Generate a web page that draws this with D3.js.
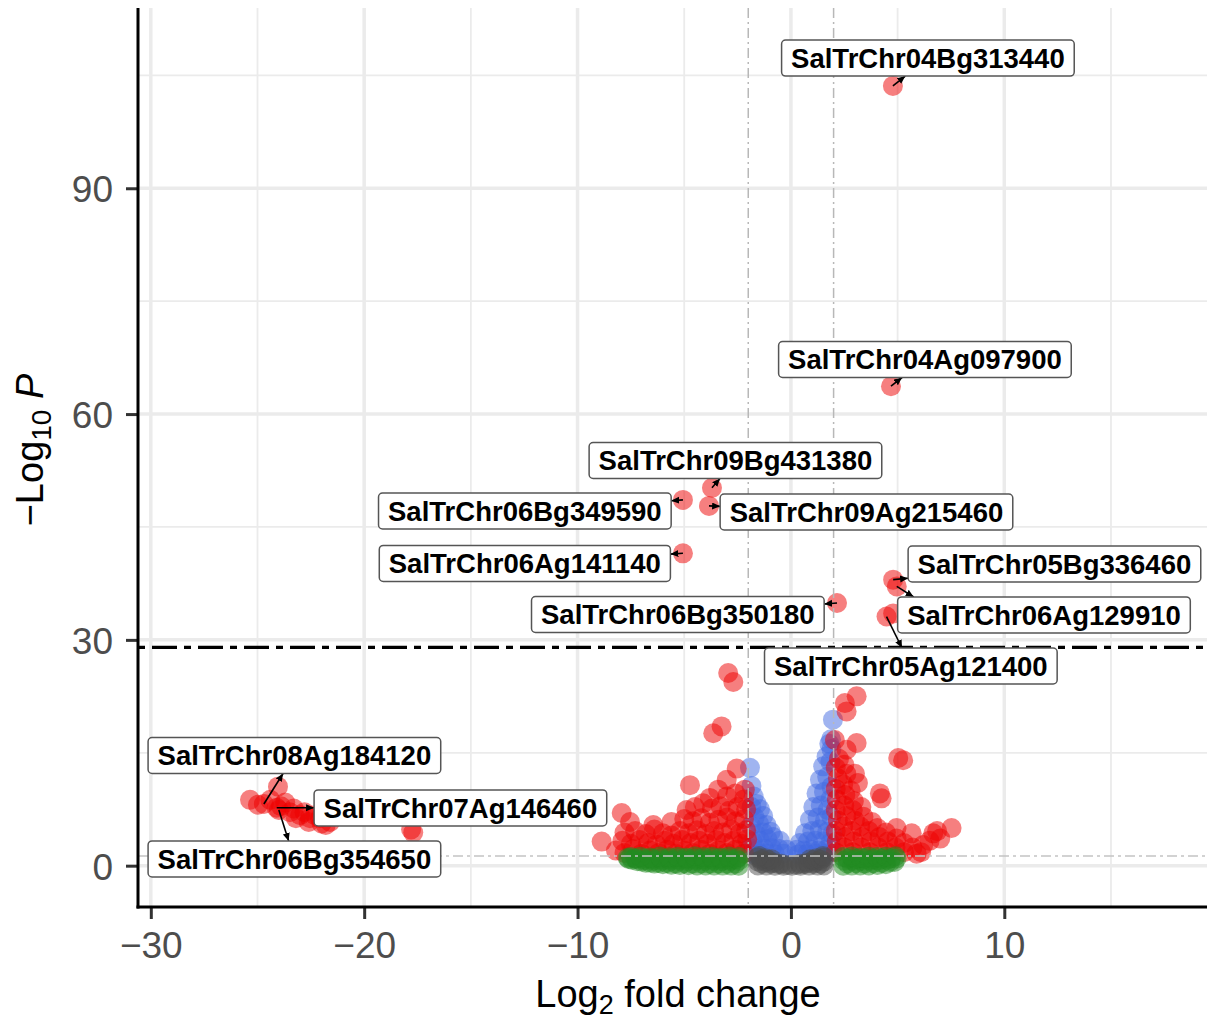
<!DOCTYPE html>
<html><head><meta charset="utf-8">
<script src="https://cdn.jsdelivr.net/npm/d3@7"></script>
<style>body{margin:0;background:#fff}svg{display:block}</style>
</head><body><svg id="chart" width="1207" height="1021"></svg>
<script>
// ---------- axis ticks ----------
const xTicks = [-30, -20, -10, 0, 10];
const xMinorTicks = [-25, -15, -5, 5, 15];
const yTicks = [0, 30, 60, 90];
const yMinorTicks = [15, 45, 75, 105];
const fcCutoff = 2;          // |log2 FC| cut-off
const pCutoff = 1.3;         // -log10(0.05)
const extraLine = 29;        // black dot-dash line

// ---------- labelled genes ----------
const labelGenes = ["SalTrChr04Bg313440","SalTrChr04Ag097900","SalTrChr09Bg431380","SalTrChr06Bg349590",
  "SalTrChr09Ag215460","SalTrChr06Ag141140","SalTrChr06Bg350180","SalTrChr05Bg336460",
  "SalTrChr06Ag129910","SalTrChr05Ag121400","SalTrChr08Ag184120","SalTrChr07Ag146460","SalTrChr06Bg354650"];
const labelFC = [4.78, 4.69, -3.70, -5.06, -3.84, -5.06, 2.16, 4.79, 4.96, 4.48, -24.70, -24.10, -24.00];
const labelP  = [103.6, 63.7, 50.2, 48.6, 47.8, 41.5, 34.9, 38.0, 37.1, 33.1, 8.2, 7.7, 7.4];
// repelled label anchors (data units)
const labelAtFC = [6.42, 6.28, -2.60, -12.47, 3.54, -12.47, -5.30, 12.35, 11.86, 5.62, -23.27, -15.49, -23.27];
const labelAtP  = [107.3, 67.25, 53.83, 47.12, 46.99, 40.15, 33.37, 40.08, 33.31, 26.53, 14.64, 7.67, 0.89];

// ---------- other genes: [log2FC, -log10 P] ----------
const genesCentre = [
  [-1.55,0.02],[-1.15,0.01],[-0.75,0.0],[-0.35,0.0],[0.05,0.0],[0.45,0.0],[0.85,0.01],[1.25,0.01],[1.55,0.02],
  [-1.35,0.3],[-0.95,0.28],[-0.55,0.2],[-0.15,0.1],[0.25,0.12],[0.65,0.22],[1.05,0.28],[1.4,0.3],
  [-1.55,0.55],[-1.15,0.5],[-0.8,0.4],[-0.45,0.25],[0.45,0.25],[0.8,0.4],[1.15,0.5],[1.55,0.55],
  [-1.4,0.8],[-1.05,0.75],[1.05,0.75],[1.4,0.8],
  [-1.55,1.1],[-1.2,1.0],[-0.9,0.85],[0.9,0.85],[1.2,1.0],[1.55,1.1],[-1.5,1.28],[1.5,1.28]
];
const genesFcOnly = [
  [-7.6,0.9],[-7.2,0.6],[-6.8,0.4],[-6.4,0.3],[-6.0,0.2],[-5.6,0.12],[-5.2,0.08],[-4.8,0.05],[-4.4,0.03],[-4.0,0.02],[-3.6,0.02],[-3.2,0.01],[-2.8,0.01],[-2.45,0.0],
  [-7.45,0.8],[-7.0,0.55],[-6.6,0.42],[-6.2,0.35],[-5.8,0.33],[-5.4,0.3],[-5.0,0.32],[-4.6,0.28],[-4.2,0.3],[-3.8,0.26],[-3.4,0.3],[-3.0,0.25],[-2.6,0.28],
  [-7.65,1.05],[-7.25,0.9],[-6.85,0.72],[-6.45,0.68],[-6.05,0.7],[-5.65,0.66],[-5.25,0.7],[-4.85,0.64],[-4.45,0.7],[-4.05,0.66],[-3.65,0.7],[-3.25,0.62],[-2.85,0.68],[-2.45,0.65],
  [-7.3,0.98],[-6.9,0.95],[-6.5,0.92],[-6.1,0.96],[-5.7,0.9],[-5.3,0.95],[-4.9,0.92],[-4.5,0.97],[-4.1,0.9],[-3.7,0.95],[-3.3,0.92],[-2.9,0.96],[-2.55,0.9],
  [-7.5,1.15],[-7.05,1.2],[-6.6,1.1],[-6.15,1.22],[-5.7,1.12],[-5.3,1.2],[-4.9,1.1],[-4.5,1.25],[-4.1,1.15],[-3.7,1.2],[-3.3,1.1],[-2.9,1.22],[-2.45,1.15],
  [2.45,0.0],[2.85,0.01],[3.25,0.02],[3.65,0.04],[4.05,0.08],[4.45,0.2],[4.85,0.5],
  [2.65,0.3],[3.05,0.32],[3.45,0.28],[3.85,0.33],[4.25,0.38],[4.65,0.5],
  [2.5,0.65],[2.9,0.7],[3.3,0.66],[3.7,0.7],[4.1,0.68],[4.5,0.8],[4.95,0.95],
  [2.65,0.95],[3.05,0.92],[3.45,0.96],[3.85,0.9],[4.25,0.95],[4.7,1.0],
  [2.45,1.15],[2.85,1.22],[3.25,1.1],[3.65,1.2],[4.05,1.15],[4.45,1.2],[4.9,1.25]
];
const genesPOnly = [
  [-1.92,13.0],[-1.85,10.6],[-1.75,9.2],[-1.6,8.2],[-1.45,7.5],[-1.85,7.8],[-1.3,6.6],[-1.7,6.4],[-1.14,5.4],[-1.5,5.6],
  [-1.88,5.3],[-0.95,4.5],[-1.3,4.4],[-1.65,4.2],[-0.83,3.8],[-0.52,3.3],[-1.1,3.5],[-1.45,3.3],[-1.8,3.2],[-0.2,2.1],
  [-0.55,2.2],[-0.9,2.3],[-1.25,2.2],[-1.6,2.0],[-1.9,2.3],[-0.35,1.6],[-0.75,1.5],[-1.15,1.6],[-1.5,1.5],[-1.85,1.6],
  [1.97,19.4],[1.88,16.8],[1.8,16.2],[1.9,15.5],[1.67,14.5],[1.51,13.2],[1.85,13.8],[1.36,11.4],[1.7,11.8],[1.9,10.5],
  [1.2,9.6],[1.55,9.8],[1.85,8.8],[1.05,7.8],[1.4,8.0],[1.72,7.4],[0.89,6.1],[1.25,6.4],[1.6,6.0],[1.9,6.5],
  [0.66,4.3],[1.0,4.6],[1.35,4.8],[1.7,4.5],[1.95,4.2],[0.42,3.0],[0.8,3.2],[1.15,3.3],[1.5,3.2],[1.85,3.0],
  [0.27,2.1],[0.6,2.0],[0.95,2.1],[1.3,2.0],[1.65,2.1],[1.95,1.9],[0.35,1.5],[0.75,1.5],[1.15,1.55],[1.55,1.5]
];
const genesBothLeft = [
  [-8.87,3.2],[-8.2,2.0],[-7.8,1.7],[-7.4,2.2],[-7.0,1.6],[-6.6,2.0],[-6.2,1.7],[-5.8,2.1],[-5.4,1.6],[-5.0,2.0],
  [-4.6,1.7],[-4.2,2.1],[-3.8,1.6],[-3.4,2.0],[-3.0,1.7],[-2.6,2.1],[-2.2,1.6],
  [-7.9,3.3],[-7.5,2.9],[-7.1,3.4],[-6.7,3.0],[-6.3,2.8],[-5.9,3.3],[-5.5,2.9],[-5.1,3.4],[-4.7,3.0],[-4.3,3.3],
  [-3.9,2.9],[-3.5,3.4],[-3.1,3.0],[-2.7,3.3],[-2.3,2.9],[-2.05,3.5],
  [-7.8,4.4],[-7.3,4.6],[-6.8,4.2],[-6.4,4.8],[-6.0,4.3],[-5.6,4.0],[-5.2,4.6],[-4.8,4.3],[-4.4,4.7],[-4.0,4.2],
  [-3.6,4.6],[-3.2,4.4],[-2.8,4.8],[-2.4,4.3],[-2.1,4.7],
  [-7.93,7.0],[-7.54,5.8],[-6.45,5.4],[-5.6,5.8],[-5.0,6.2],[-4.6,5.9],[-4.2,6.3],[-3.8,5.7],[-3.4,6.1],[-3.0,6.4],[-2.6,5.9],[-2.2,6.2],
  [-4.89,7.4],[-4.5,7.8],[-4.11,8.3],[-3.7,7.6],[-3.3,7.9],[-2.9,7.3],[-2.5,7.8],[-2.1,7.5],
  [-3.41,10.1],[-3.0,9.2],[-2.6,9.6],[-2.16,10.1],[-2.2,8.8],[-3.8,9.0],
  [-4.73,10.7],[-3.01,11.4],[-2.54,12.9],[-3.64,17.6],[-3.25,18.5],[-2.94,25.6],[-2.70,24.4],
  [-24.04,10.5],[-25.35,8.75],[-24.98,8.1],[-24.4,8.75],[-23.7,8.4],[-23.48,7.1],[-23.0,6.7],[-22.8,7.1],[-23.2,6.3],
  [-22.54,6.3],[-22.3,6.7],[-22.07,6.3],[-21.8,5.4],[-21.6,5.8],[-23.9,7.9],[-23.3,7.6],[-22.6,5.8],[-22.0,5.6],
  [-17.7,4.4],[-17.8,4.8]
];
const genesBothRight = [
  [2.1,1.8],[2.15,3.2],[2.1,4.6],[2.2,6.0],[2.1,7.4],[2.15,8.8],[2.1,10.2],[2.2,11.6],[2.1,13.0],[2.25,14.2],
  [2.5,2.4],[2.55,3.8],[2.45,5.2],[2.6,6.6],[2.5,8.0],[2.55,9.4],[2.45,10.8],[2.6,12.2],[2.5,13.4],
  [2.9,1.8],[2.95,3.2],[2.85,4.6],[3.0,6.0],[2.9,7.4],[2.95,8.6],[2.8,10.0],[3.0,12.2],
  [3.3,2.4],[3.35,3.8],[3.25,5.2],[3.4,6.5],[3.3,7.8],[3.14,11.0],
  [3.7,1.8],[3.75,3.2],[3.65,4.6],[3.8,5.8],[4.1,2.4],[4.15,3.8],[4.05,5.0],
  [4.5,1.8],[4.55,3.2],[4.45,4.4],[4.9,2.4],[4.95,3.6],[5.3,1.8],[5.3,3.0],
  [5.66,4.3],[5.7,2.4],[6.1,1.8],[6.2,2.75],[5.89,1.6],[6.5,3.3],[7.0,3.6],
  [3.08,22.5],[2.53,21.6],[2.61,20.5],[2.06,16.7],[3.08,16.3],[2.61,15.4],[5.26,14.0],[5.03,14.3],
  [4.17,9.6],[4.25,8.95],[7.53,5.0],[6.67,4.3],[6.85,4.6],[4.95,5.0],[4.79,33.5]
];

// ---------- layout ----------
const panelL = 138, panelR = 1207, panelT = 8, panelB = 907;
const svg = d3.select("#chart");
const x = d3.scaleLinear().domain([-30.6, 19.5]).range([panelL, panelR]);
const y = d3.scaleLinear().domain([-5.49, 113.95]).range([panelB, panelT]);
const FONT = "'Liberation Sans', Arial, Helvetica, sans-serif";

const colours = {ns: "#4d4d4d", fc: "#228b22", p: "#4169e1", both: "#ee0000"};
function classify(d) {
  const bigFC = Math.abs(d[0]) > fcCutoff, sigP = d[1] > pCutoff;
  return bigFC && sigP ? "both" : bigFC ? "fc" : sigP ? "p" : "ns";
}

// grid
const grid = svg.append("g");
grid.selectAll(".vmin").data(xMinorTicks).join("line")
  .attr("x1", d => x(d)).attr("x2", d => x(d)).attr("y1", panelT).attr("y2", panelB)
  .attr("stroke", "#ebebeb").attr("stroke-width", 1.8);
grid.selectAll(".hmin").data(yMinorTicks).join("line")
  .attr("x1", panelL).attr("x2", panelR).attr("y1", d => y(d)).attr("y2", d => y(d))
  .attr("stroke", "#ebebeb").attr("stroke-width", 1.8);
grid.selectAll(".vmaj").data(xTicks).join("line")
  .attr("x1", d => x(d)).attr("x2", d => x(d)).attr("y1", panelT).attr("y2", panelB)
  .attr("stroke", "#ebebeb").attr("stroke-width", 3.5);
grid.selectAll(".hmaj").data(yTicks).join("line")
  .attr("x1", panelL).attr("x2", panelR).attr("y1", d => y(d)).attr("y2", d => y(d))
  .attr("stroke", "#ebebeb").attr("stroke-width", 3.5);

// points (drawing order: blue, red, grey, green)
const all = [].concat(genesCentre, genesFcOnly, genesPOnly, genesBothLeft, genesBothRight,
  labelFC.map((f, i) => [f, labelP[i]]));
const order = {p: 0, both: 1, ns: 2, fc: 3};
all.sort((a, b) => order[classify(a)] - order[classify(b)]);
const defs = svg.append("defs");
defs.append("clipPath").attr("id", "panel").append("rect")
  .attr("x", panelL).attr("y", panelT).attr("width", panelR - panelL).attr("height", panelB - panelT);
svg.append("g").attr("clip-path", "url(#panel)").selectAll("circle").data(all).join("circle")
  .attr("cx", d => x(d[0])).attr("cy", d => y(d[1])).attr("r", 10)
  .attr("fill", d => colours[classify(d)]).attr("fill-opacity", 0.5);

// cut-off lines (over the points)
const cut = svg.append("g");
cut.selectAll(".vc").data([-fcCutoff, fcCutoff]).join("line")
  .attr("x1", d => x(d)).attr("x2", d => x(d)).attr("y1", panelT).attr("y2", panelB)
  .attr("stroke", "#b8b8b8").attr("stroke-width", 1.5).attr("stroke-dasharray", "10,4,2,4");
cut.append("line").attr("x1", panelL).attr("x2", panelR).attr("y1", y(pCutoff)).attr("y2", y(pCutoff))
  .attr("stroke", "#c4c4c4").attr("stroke-width", 1.5).attr("stroke-dasharray", "10,4,3,4");

// black dot-dash line
svg.append("line").attr("x1", panelL).attr("x2", panelR).attr("y1", y(extraLine)).attr("y2", y(extraLine))
  .attr("stroke", "#000").attr("stroke-width", 3.2).attr("stroke-dasharray", "7,7,25,7");

// axes
const xAxis = svg.append("g").attr("transform", `translate(0,${panelB})`)
  .call(d3.axisBottom(x).tickValues(xTicks).tickSize(12).tickPadding(12).tickFormat(d => d < 0 ? "\u2212" + Math.abs(d) : d));
xAxis.select(".domain").remove();
xAxis.selectAll(".tick line").attr("stroke", "#333").attr("stroke-width", 3);
xAxis.selectAll(".tick text").attr("font-family", FONT).attr("font-size", 37).attr("fill", "#4d4d4d")
  .attr("dy", "0.72em");
const yAxis = svg.append("g").attr("transform", `translate(${panelL},0)`)
  .call(d3.axisLeft(y).tickValues(yTicks).tickSize(12).tickPadding(13));
yAxis.select(".domain").remove();
yAxis.selectAll(".tick line").attr("stroke", "#333").attr("stroke-width", 3);
yAxis.selectAll(".tick text").attr("font-family", FONT).attr("font-size", 37).attr("fill", "#4d4d4d")
  .attr("dy", "0.36em");
svg.append("line").attr("x1", panelL).attr("x2", panelL).attr("y1", panelT).attr("y2", panelB + 1.5)
  .attr("stroke", "#000").attr("stroke-width", 3);
svg.append("line").attr("x1", panelL - 1.5).attr("x2", panelR).attr("y1", panelB).attr("y2", panelB)
  .attr("stroke", "#000").attr("stroke-width", 3);

// axis titles
const xt = svg.append("text").attr("x", 678).attr("y", 1007).attr("text-anchor", "middle")
  .attr("font-family", FONT).attr("font-size", 38).attr("fill", "#000");
xt.append("tspan").text("Log");
xt.append("tspan").attr("font-size", 27).attr("dy", 7).text("2");
xt.append("tspan").attr("dy", -7).text(" fold change");
const yt = svg.append("text").attr("transform", "translate(43,450) rotate(-90)").attr("text-anchor", "middle")
  .attr("font-family", FONT).attr("font-size", 38).attr("fill", "#000");
yt.append("tspan").text("\u2212Log");
yt.append("tspan").attr("font-size", 28).attr("dy", 8).text("10");
yt.append("tspan").attr("dy", -8).text(" ");
yt.append("tspan").attr("font-style", "italic").text("P");

// labels with connectors
defs.append("marker").attr("id", "arr").attr("markerUnits", "userSpaceOnUse")
  .attr("markerWidth", 10).attr("markerHeight", 10).attr("refX", 8).attr("refY", 3.5).attr("orient", "auto")
  .append("path").attr("d", "M0,0 L8,3.5 L0,7 Z").attr("fill", "#000");
const labG = svg.append("g");
const segG = labG.append("g"), boxG = labG.append("g");
labelGenes.forEach((name, i) => {
  const cx = x(labelAtFC[i]), cy = y(labelAtP[i]);
  const g = boxG.append("g");
  const rect = g.append("rect");
  const t = g.append("text").attr("x", cx).attr("y", cy + 9.8).attr("text-anchor", "middle")
    .attr("font-family", FONT).attr("font-weight", "bold").attr("font-size", 27.5).attr("fill", "#000").text(name);
  const tw = t.node().getComputedTextLength();
  const hw = tw / 2 + 9.5, hh = 18;
  rect.attr("x", cx - hw).attr("y", cy - hh).attr("width", 2 * hw).attr("height", 2 * hh)
    .attr("rx", 4).attr("fill", "#fff").attr("stroke", "#555").attr("stroke-width", 1.5);
  const px = x(labelFC[i]), py = y(labelP[i]);
  const dx = cx - px, dy = cy - py;
  const s = Math.min(hw / Math.abs(dx || 1e-9), hh / Math.abs(dy || 1e-9));
  let ex = cx - dx * s, ey = cy - dy * s;
  // shorten very long connectors towards the nearest part of the box
  const nx = Math.max(cx - hw, Math.min(cx + hw, px)), ny = Math.max(cy - hh, Math.min(cy + hh, py));
  if (Math.hypot(ex - px, ey - py) > 2.5 * Math.hypot(nx - px, ny - py) + 20) { ex = (ex + nx) / 2 - (ex - nx) * 0.2; ey = ny; }
  segG.append("line").attr("x1", px).attr("y1", py).attr("x2", ex).attr("y2", ey)
    .attr("stroke", "#000").attr("stroke-width", 1.6).attr("marker-end", "url(#arr)");
});
</script></body></html>
